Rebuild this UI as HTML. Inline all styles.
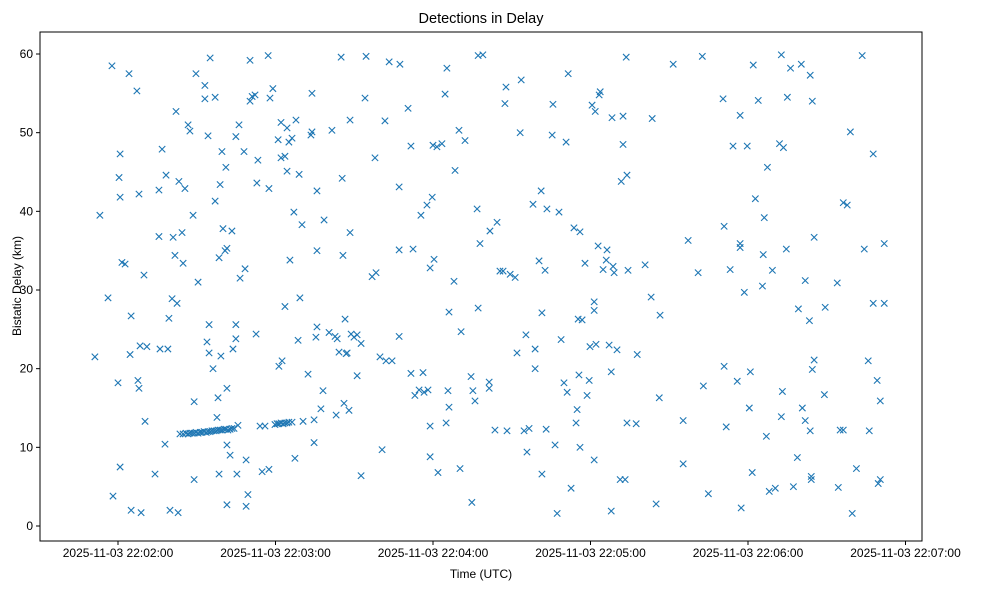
<!DOCTYPE html>
<html><head><meta charset="utf-8"><style>
body{margin:0;background:#fff;font-family:"Liberation Sans",sans-serif;}
svg text{font-family:"Liberation Sans",sans-serif;}
</style></head><body>
<svg id="chart" width="988" height="590" xmlns="http://www.w3.org/2000/svg">
<rect width="988" height="590" fill="#fff"/>
<text x="481" y="23" font-size="14.5" text-anchor="middle" fill="#000">Detections in Delay</text>
<text x="481" y="578" font-size="12" text-anchor="middle" fill="#000">Time (UTC)</text>
<text transform="translate(21,286) rotate(-90)" font-size="12" text-anchor="middle" fill="#000">Bistatic Delay (km)</text>
<g id="marks"></g>
<g id="axes"></g>
<rect x="40" y="32" width="882" height="509" fill="none" stroke="#000" stroke-width="1"/>
</svg>
<script>
// seconds after 2025-11-03 22:02:00
const times = [-8.8,-6.9,-3.8,-2.3,-1.9,0,0.4,0.8,0.8,0.8,1.5,2.7,4.2,4.6,5,5,7.2,7.6,8,8,8.4,8.8,9.9,10.3,11,14.1,15.6,15.6,16,16.8,17.9,18.3,19,19.4,19.8,20.6,21,21.7,22.1,22.5,22.9,23.2,24.4,24.8,25.5,26.7,27.4,28.6,29,29,29.7,30.5,33.1,33.1,33.9,34.3,34.7,34.7,35.1,36.2,37,37,37.7,38.1,38.5,38.5,38.9,39.2,39.6,40,40.8,41.1,41.5,41.5,41.5,41.5,42.7,43.4,43.8,44.9,44.9,44.9,45.3,45.7,46.1,46.5,48,48.4,48.8,48.8,49.5,50.3,50.3,51.1,52.2,52.6,52.9,53.3,54.1,54.9,56,57.2,57.5,57.5,57.9,59,61,61.3,62.1,62.1,62.5,63.6,63.6,64.4,64.4,65.1,65.5,66.3,67,67.4,67.8,68.6,69,69.3,70.1,70.5,72.4,73.5,73.9,73.9,74.7,74.7,75.4,75.8,75.8,75.8,77.3,78.1,78.5,80.4,81.5,82.7,83.1,83.5,84.2,85,85.4,85.7,86.1,86.5,86.9,87.3,88,88.4,88.4,88.8,89.9,91.1,91.1,92.6,92.6,94.1,94.5,96.8,97.9,98.3,99.8,100.6,101.7,102.1,103.3,104.4,107.1,107.1,107.1,107.4,110.5,111.6,111.6,112.4,113.1,114.7,115.4,116.2,116.6,117.7,118.1,118.9,118.9,118.9,119.7,120,120.4,121.5,121.9,123.4,124.6,125,125.3,125.7,126.1,126.1,128,128.4,129.9,130.3,130.7,132.2,134.5,134.8,135.2,136,136.8,137.2,137.2,137.9,139,141.4,141.4,141.7,143.6,144.4,145.5,146.7,147.4,147.8,148.2,149.4,151.3,152,153.2,153.6,154.7,155.4,155.8,156.6,158.1,158.9,158.9,160.4,161.2,161.5,161.5,162.7,163.1,163.4,165.4,165.7,166.5,167.3,168,168.8,169.9,170.7,171.1,171.5,172.6,173.7,174.5,174.9,175.3,175.6,176,176,176.8,177.9,178.7,179.5,179.8,180.6,181.4,181.4,181.4,181.8,182.1,182.9,183.3,183.7,184.8,186,186.3,187.1,187.9,187.9,188.2,188.6,189,190.1,191.3,191.7,192.4,192.4,193.2,193.6,193.9,193.9,194.3,197.4,197.8,200.8,203.1,203.5,205,206.2,206.5,211.5,215.3,215.3,217.2,221,222.6,223,224.9,230.5,230.9,230.9,231.7,233.2,234.3,235.9,237,237,237,237.4,238.6,239.7,240.5,240.9,241.6,242,242.8,243.9,245.5,245.8,246.2,247,247.4,248.1,249.3,250.4,252,252.7,252.7,253.1,253.5,254.6,255,256.2,257.3,258.8,259.2,260.3,260.7,261.8,261.8,263.4,263.7,263.7,264.1,264.1,264.5,264.5,265.2,265.2,269.1,269.4,274,274.4,275.1,276.3,276.3,277.8,279,279.7,281.3,283.5,284.3,285.8,286.2,287.7,287.7,289.2,289.6,290.4,290.4,291.9,291.9,
23.6,24.8,25.9,26.7,27.4,28.2,29.0,29.7,30.5,31.3,32.0,32.8,33.6,34.3,35.1,35.8,36.6,37.4,38.1,38.9,39.6,40.4,41.1,41.9,42.7,43.4,44.2,
59.8,60.6,61.3,62.1,62.9,63.6,64.4,65.1,66.3];
const delays = [21.5,39.5,29,58.5,3.8,18.2,44.3,47.3,41.8,7.5,33.5,33.3,57.5,21.8,26.7,2,55.3,18.5,17.5,42.2,22.9,1.7,31.9,13.3,22.8,6.6,36.8,42.7,22.5,47.9,10.4,44.6,22.5,26.4,2,28.9,36.7,34.4,52.7,28.3,1.7,43.8,37.3,33.4,42.9,51,50.2,39.5,15.8,5.9,57.5,31,56,54.3,23.4,49.6,25.6,22,59.5,20,54.5,41.3,13.8,16.3,34.1,6.6,43.4,21.6,47.6,37.8,35,45.6,17.5,35.3,10.3,2.7,9,37.5,22.5,25.6,23.8,49.5,6.6,12.8,51,31.5,47.6,32.7,8.4,2.5,4,54,59.2,54.6,54.8,24.4,43.6,46.5,12.7,6.9,12.7,59.8,7.2,42.9,54.4,55.6,49.1,20.3,51.3,46.8,21,47,27.9,45.1,50.6,48.8,33.8,49.3,39.9,8.6,51.6,23.6,44.7,29,38.3,13.3,19.3,49.7,50.1,55,13.5,10.6,24,42.6,35,25.3,14.9,17.2,38.9,24.6,50.3,24.1,14.1,23.8,22.1,59.6,44.2,34.4,15.6,26.3,21.9,22,14.7,51.6,37.3,24.4,24,19.1,24.3,23.2,6.4,54.4,59.7,31.7,46.8,32.2,21.5,9.7,51.5,21,59,21,35.1,43.1,24.1,58.7,53.1,48.3,19.4,35.2,16.6,17.3,39.5,19.5,17,40.8,17.3,32.8,8.8,12.7,41.8,48.4,33.9,48.2,6.8,48.6,54.9,13.1,58.2,17.2,27.2,15.1,31.1,45.2,50.3,7.3,24.7,49,19,3,17.2,15.9,40.3,59.8,27.7,35.9,59.9,18.3,17.5,37.5,12.2,38.6,32.4,32.4,53.7,55.8,12.1,32,31.6,22,50,56.7,12.1,24.3,9.4,12.4,40.9,20,22.5,33.7,42.6,6.6,27.1,32.5,12.3,40.3,49.7,53.6,10.3,1.6,39.9,23.7,18.2,48.8,17,57.5,4.8,37.9,13.1,14.8,26.3,19.2,37.4,10,26.2,33.4,16.6,18.5,22.8,53.5,8.4,28.5,27.4,52.7,23.1,35.6,54.8,55.2,32.6,33.8,35.1,23,19.6,1.9,51.9,33,32.2,22.4,5.9,43.8,48.5,52.1,5.9,59.6,44.6,13.1,32.5,13,21.8,33.2,29.1,51.8,2.8,16.3,26.8,58.7,7.9,13.4,36.3,32.2,59.7,17.8,4.1,54.3,38.1,20.3,12.6,32.6,48.3,18.4,52.2,35.4,35.9,2.3,29.7,48.3,15,19.6,6.8,58.6,41.6,54.1,30.5,34.5,39.2,11.4,45.6,4.4,32.5,4.8,48.6,59.9,13.9,17.1,48.1,35.2,54.5,58.2,5,8.7,27.6,58.7,15,31.2,13.4,26.1,57.3,12.1,5.9,6.3,54,19.9,21.1,36.7,16.7,27.8,30.9,4.9,12.2,12.2,41.1,40.8,50.1,1.6,7.3,59.8,35.2,21,12.1,28.3,47.3,18.5,5.4,5.9,15.9,28.3,35.9,
11.7,11.7,11.8,11.7,11.8,11.8,11.8,11.9,11.8,11.9,11.9,12.0,11.9,12.0,12.0,12.1,12.1,12.1,12.2,12.2,12.2,12.3,12.3,12.2,12.3,12.4,12.4,
12.9,13.0,13.0,13.1,13.0,13.1,13.1,13.2,13.2];
const xTickValues = [0,60,120,180,240,300];
const xTickLabels = ["2025-11-03 22:02:00","2025-11-03 22:03:00","2025-11-03 22:04:00","2025-11-03 22:05:00","2025-11-03 22:06:00","2025-11-03 22:07:00"];
const yTickValues = [0,10,20,30,40,50,60];

const NS="http://www.w3.org/2000/svg";
function xScale(s){return 118+s*(157.5/60);}
function yScale(v){return 526-v*(472/60);}
const marks=document.getElementById('marks');
const axes=document.getElementById('axes');
for(let i=0;i<times.length;i++){
  const cx=xScale(times[i]), cy=yScale(delays[i]), r=3.2;
  const p=document.createElementNS(NS,'path');
  p.setAttribute('d',`M${cx-r},${cy-r}L${cx+r},${cy+r}M${cx-r},${cy+r}L${cx+r},${cy-r}`);
  p.setAttribute('stroke','#1f77b4');p.setAttribute('stroke-width','1.1');p.setAttribute('fill','none');
  
  
  marks.appendChild(p);
}
xTickValues.forEach((v,i)=>{
  const x=xScale(v);
  const l=document.createElementNS(NS,'line');
  l.setAttribute('x1',x);l.setAttribute('x2',x);l.setAttribute('y1',541);l.setAttribute('y2',545);l.setAttribute('stroke','#000');
  
  
  axes.appendChild(l);
  const t=document.createElementNS(NS,'text');
  t.setAttribute('x',x);t.setAttribute('y',557);t.setAttribute('font-size','12');t.setAttribute('text-anchor','middle');
  t.textContent=xTickLabels[i];
  
  
  axes.appendChild(t);
});
yTickValues.forEach(v=>{
  const y=yScale(v);
  const l=document.createElementNS(NS,'line');
  l.setAttribute('x1',36);l.setAttribute('x2',40);l.setAttribute('y1',y);l.setAttribute('y2',y);l.setAttribute('stroke','#000');
  
  
  axes.appendChild(l);
  const t=document.createElementNS(NS,'text');
  t.setAttribute('x',33);t.setAttribute('y',y+4);t.setAttribute('font-size','12');t.setAttribute('text-anchor','end');
  t.textContent=String(v);
  
  
  axes.appendChild(t);
});
</script>
</body></html>
